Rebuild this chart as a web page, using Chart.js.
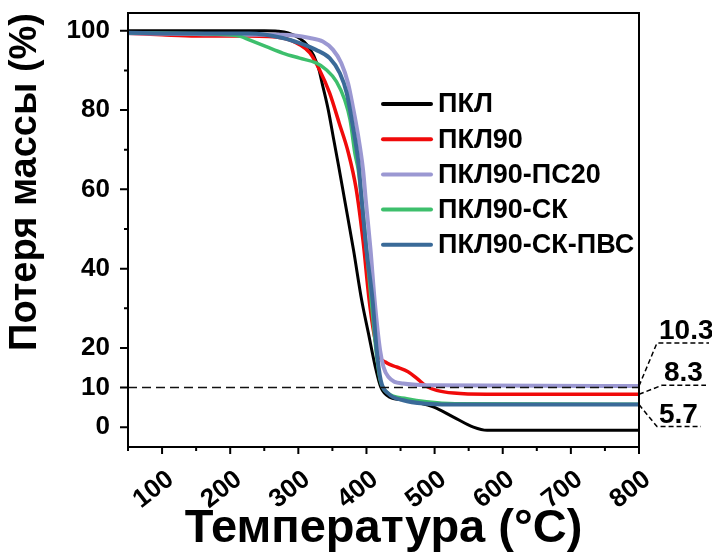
<!DOCTYPE html>
<html>
<head>
<meta charset="utf-8">
<script src="https://cdn.jsdelivr.net/npm/chart.js@4.4.1/dist/chart.umd.min.js"></script>
<style>
	html, body { margin: 0; padding: 0; background: #fff; }
</style>
</head>
<body>
<canvas id="canvasTGA" width="712" height="553"></canvas>
<script>
"use strict";

// Series names (legend order)
var seriesNames = ['ПКЛ', 'ПКЛ90', 'ПКЛ90-ПС20', 'ПКЛ90-СК', 'ПКЛ90-СК-ПВС'];

// Temperature (°C) / mass (%), one pair of arrays per curve
var tPKL = [50, 150, 250, 270, 285, 300, 315, 329, 336, 344, 352, 359, 368, 381, 393, 403, 413, 421, 434, 459, 498, 527, 557, 577, 650, 800];
var mPKL = [100, 100, 100, 99.9, 99.5, 98.3, 96, 91, 86, 80, 72.5, 66, 57.3, 44.7, 32, 23.6, 15.2, 10.1, 7.6, 6.8, 5.1, 2.6, 0, -0.8, -0.8, -0.8];

var tPKL90 = [50, 100, 150, 228, 277, 302, 317, 331, 346, 360, 373, 385, 395, 404, 411, 419, 430, 444, 461, 474, 488, 503, 528, 576, 650, 800];
var mPKL90 = [99.4, 99, 98.7, 98.7, 98.2, 96.5, 94.4, 90.2, 84.3, 76.7, 69.5, 60, 47, 32, 23.6, 18, 16.2, 15.2, 14, 12.3, 10.3, 9.3, 8.6, 8.3, 8.3, 8.3];

var tPS20 = [50, 150, 228, 277, 317, 336, 351, 363, 373, 380, 388, 395, 399, 406, 412, 420, 425, 432, 454, 493, 800];
var mPS20 = [99.4, 99.2, 99, 99, 98.2, 97.3, 95.2, 91.9, 86.8, 80.9, 73.3, 64.9, 57.3, 44.7, 32, 19.4, 15.2, 12.7, 11, 10.6, 10.4];

var tSK = [50, 150, 200, 215, 228, 253, 277, 302, 326, 341, 356, 368, 376, 383, 388, 393, 400, 407, 414, 420, 430, 459, 488, 530, 800];
var mSK = [99.5, 99.3, 99, 98.6, 97.7, 96, 94.4, 93.1, 91.9, 90.2, 87.2, 82.6, 77.5, 69.1, 64.9, 57.3, 44.7, 32, 19.4, 12, 8.8, 7.2, 6.4, 5.9, 5.8];

var tPVS = [50, 150, 228, 277, 302, 326, 346, 361, 371, 380, 388, 393, 400, 409, 415, 421, 432, 454, 488, 520, 800];
var mPVS = [99.5, 99.3, 99.3, 98.2, 96.9, 95.2, 93.1, 89.3, 84.3, 75.9, 67, 57.3, 44.7, 32, 19.4, 11.8, 8.5, 6.8, 5.9, 5.7, 5.7];

// dashed reference line at 10 %
var refT = [50, 800];
var refM = [10, 10];

// residue labels on the right
var endLabels = ['10.3', '8.3', '5.7'];
var endValues = [10.4, 8.3, 5.7];

// axis ticks
var xTickValues = [50, 100, 150, 200, 250, 300, 350, 400, 450, 500, 550, 600, 650, 700, 750, 800];
var xTickLabels = ['100', '200', '300', '400', '500', '600', '700', '800'];
var yTickValues = [0, 10, 20, 30, 40, 50, 60, 70, 80, 90, 100];
var yTickLabels = ['0', '10', '20', '40', '60', '80', '100'];

var seriesColors = ['#000000', '#f00a0a', '#9b98d2', '#3dbf6c', '#3a6a98'];
var seriesWidths = [3, 3.5, 4, 3.5, 4];
var seriesOrder = [4, 3, 2, 1, 0];

function toPoints(ts, ms) {
	return ts.map(function (t, i) { return { x: t, y: ms[i] }; });
}

var seriesData = [
	toPoints(tPKL, mPKL),
	toPoints(tPKL90, mPKL90),
	toPoints(tPS20, mPS20),
	toPoints(tSK, mSK),
	toPoints(tPVS, mPVS)
];

var datasets = seriesNames.map(function (name, i) {
	return {
		label: name,
		data: seriesData[i],
		borderColor: seriesColors[i],
		backgroundColor: seriesColors[i],
		borderWidth: seriesWidths[i],
		pointRadius: 0,
		cubicInterpolationMode: 'monotone',
		borderCapStyle: 'round',
		borderJoinStyle: 'round',
		fill: false,
		order: seriesOrder[i]
	};
});

datasets.push({
	label: 'ref',
	data: toPoints(refT, refM),
	borderColor: '#111',
	borderWidth: 1.5,
	borderDash: [9, 5],
	pointRadius: 0,
	fill: false,
	order: -1
});

var FONT = '"Liberation Sans", Arial, sans-serif';

// frame, tick marks, rotated x labels, legend and residue labels
var decorPlugin = {
	id: 'decor',
	afterDraw: function (chart) {
		var ctx = chart.ctx;
		var a = chart.chartArea;
		var xs = chart.scales.x, ys = chart.scales.y;
		ctx.save();

		// frame
		ctx.strokeStyle = '#000';
		ctx.lineWidth = 2;
		ctx.strokeRect(a.left, a.top, a.right - a.left, a.bottom - a.top);

		// ticks
		ctx.lineWidth = 2;
		ctx.beginPath();
		xTickValues.forEach(function (v) {
			var px = xs.getPixelForValue(v);
			var len = (v % 100 === 0) ? 7 : 4;
			ctx.moveTo(px, a.bottom);
			ctx.lineTo(px, a.bottom + len);
		});
		yTickValues.forEach(function (v) {
			var py = ys.getPixelForValue(v);
			var len = (yTickLabels.indexOf(String(v)) >= 0) ? 8 : 4;
			ctx.moveTo(a.left, py);
			ctx.lineTo(a.left - len, py);
		});
		ctx.stroke();

		// x tick labels, rotated
		ctx.fillStyle = '#000';
		ctx.font = 'bold 26px ' + FONT;
		ctx.textAlign = 'right';
		ctx.textBaseline = 'alphabetic';
		xTickLabels.forEach(function (lbl) {
			var px = xs.getPixelForValue(Number(lbl));
			ctx.save();
			ctx.translate(px + 13, a.bottom + 35);
			ctx.rotate(-38 * Math.PI / 180);
			ctx.fillText(lbl, 0, 0);
			ctx.restore();
		});

		// legend
		ctx.font = 'bold 27px ' + FONT;
		ctx.textBaseline = 'middle';
		ctx.textAlign = 'left';
		seriesNames.forEach(function (name, i) {
			var y = a.top + 91 + i * 35.2;
			ctx.strokeStyle = seriesColors[i];
			ctx.lineWidth = 4;
			ctx.lineCap = 'round';
			ctx.beginPath();
			ctx.moveTo(a.left + 255, y);
			ctx.lineTo(a.left + 303, y);
			ctx.stroke();
			ctx.fillStyle = '#000';
			ctx.fillText(name, a.left + 310, y + 1);
		});

		// residue labels
		var offsets = [-43, -9, 22];
		var startX = [18, 23, 18];
		var lineLen = [52, 44, 44];
		ctx.lineCap = 'butt';
		ctx.strokeStyle = '#000';
		ctx.lineWidth = 1.5;
		ctx.setLineDash([5, 3]);
		ctx.font = 'bold 28px ' + FONT;
		ctx.textBaseline = 'alphabetic';
		endValues.forEach(function (v, i) {
			var y0 = ys.getPixelForValue(v);
			var y1 = y0 + offsets[i];
			var x1 = a.right + startX[i];
			ctx.beginPath();
			ctx.moveTo(a.right, y0);
			ctx.lineTo(x1, y1);
			ctx.lineTo(x1 + lineLen[i], y1);
			ctx.stroke();
			ctx.fillStyle = '#000';
			ctx.fillText(endLabels[i], x1 + 2, y1 - 4);
		});
		ctx.restore();
	}
};

var chart = new Chart(document.getElementById('canvasTGA'), {
	type: 'line',
	data: { datasets: datasets },
	plugins: [decorPlugin],
	options: {
		responsive: false,
		animation: false,
		layout: { padding: { top: 13, right: 73, left: 0, bottom: 0 } },
		plugins: {
			legend: { display: false },
			tooltip: { enabled: false }
		},
		scales: {
			x: {
				type: 'linear',
				min: 50,
				max: 800,
				grid: { display: false, drawTicks: false },
				border: { display: false },
				afterBuildTicks: function (scale) {
					scale.ticks = xTickValues.map(function (v) { return { value: v }; });
				},
				afterFit: function (scale) {
					scale.height = 106;
					scale.paddingLeft = 0;
					scale.paddingRight = 0;
				},
				ticks: { display: false },
				title: {
					display: true,
					text: 'Температура (°C)',
					color: '#000',
					font: { family: FONT, size: 47, weight: 'bold', lineHeight: 1.0 },
					padding: 0
				}
			},
			y: {
				min: -5,
				max: 104.5,
				grid: { display: false, drawTicks: false },
				border: { display: false },
				afterBuildTicks: function (scale) {
					scale.ticks = yTickValues.map(function (v) { return { value: v }; });
				},
				afterFit: function (scale) {
					scale.width = 128;
					scale.paddingTop = 0;
					scale.paddingBottom = 0;
				},
				ticks: {
					autoSkip: false,
					padding: 18,
					color: '#000',
					font: { family: FONT, size: 26, weight: 'bold' },
					callback: function (v) {
						return yTickLabels.indexOf(String(v)) >= 0 ? String(v) : '';
					}
				},
				title: {
					display: true,
					text: 'Потеря массы (%)',
					align: 'end',
					color: '#000',
					font: { family: FONT, size: 38, weight: 'bold', lineHeight: 1.2 },
					padding: { top: 3, bottom: 0 }
				}
			}
		}
	}
});
</script>
</body>
</html>
